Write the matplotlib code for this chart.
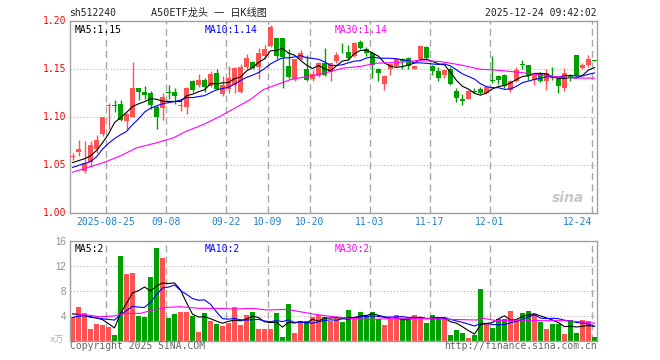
"""Daily K-line chart for sh512240 (A50ETF龙头), Sina finance style.

Price candles with MA5 / MA10 / MA30 on top, volume bars (x万) below.
"""

import matplotlib
matplotlib.use("Agg")
import matplotlib.pyplot as plt
from matplotlib.transforms import blended_transform_factory

# ---------------------------------------------------------------- data

opens = [1.058, 1.063, 1.043, 1.053, 1.066, 1.082, 1.111, 1.112, 1.113, 1.095,
         1.100, 1.130, 1.126, 1.124, 1.110, 1.109, 1.126, 1.1255, 1.111, 1.110,
         1.137, 1.133, 1.138, 1.132, 1.145, 1.123, 1.129, 1.133, 1.126, 1.152,
         1.157, 1.152, 1.1625, 1.1735, 1.1815, 1.1815, 1.1528, 1.139, 1.160, 1.1493,
         1.139, 1.1424, 1.1562, 1.1459, 1.1573, 1.1705, 1.1676, 1.1632, 1.1777, 1.170,
         1.166, 1.150, 1.134, 1.149, 1.153, 1.160, 1.161, 1.150, 1.160, 1.172,
         1.153, 1.147, 1.143, 1.150, 1.127, 1.1186, 1.1186, 1.127, 1.129, 1.124,
         1.138, 1.1425, 1.1435, 1.128, 1.1366, 1.154, 1.154, 1.138, 1.145, 1.137,
         1.142, 1.139, 1.130, 1.1435, 1.1636, 1.151, 1.154, 1.1585]
closes = [1.059, 1.066, 1.052, 1.070, 1.076, 1.099, 1.112, 1.111, 1.096, 1.103,
          1.130, 1.126, 1.122, 1.112, 1.100, 1.120, 1.125, 1.121, 1.112, 1.130,
          1.128, 1.138, 1.131, 1.144, 1.129, 1.133, 1.140, 1.151, 1.152, 1.161,
          1.151, 1.166, 1.1705, 1.1936, 1.1632, 1.1618, 1.141, 1.1597, 1.1666, 1.1383,
          1.1445, 1.1562, 1.1434, 1.1555, 1.1642, 1.1698, 1.1614, 1.177, 1.1718, 1.166,
          1.154, 1.145, 1.142, 1.155, 1.160, 1.158, 1.153, 1.153, 1.173, 1.161,
          1.147, 1.140, 1.148, 1.134, 1.119, 1.1158, 1.1262, 1.126, 1.124, 1.131,
          1.137, 1.1383, 1.1314, 1.1366, 1.1487, 1.1535, 1.142, 1.1435, 1.137, 1.145,
          1.140, 1.132, 1.145, 1.141, 1.142, 1.154, 1.160, 1.158]
highs = [1.062, 1.076, 1.075, 1.075, 1.081, 1.100, 1.114, 1.117, 1.117, 1.104,
         1.157, 1.130, 1.132, 1.127, 1.112, 1.125, 1.133, 1.130, 1.117, 1.131,
         1.138, 1.144, 1.140, 1.147, 1.150, 1.142, 1.153, 1.152, 1.155, 1.165,
         1.158, 1.171, 1.174, 1.1954, 1.182, 1.182, 1.1701, 1.160, 1.169, 1.1642,
         1.1486, 1.157, 1.1711, 1.156, 1.1676, 1.1763, 1.1746, 1.178, 1.1798, 1.172,
         1.168, 1.151, 1.143, 1.156, 1.161, 1.161, 1.162, 1.154, 1.174, 1.173,
         1.154, 1.152, 1.148, 1.152, 1.130, 1.123, 1.128, 1.130, 1.131, 1.132,
         1.1625, 1.143, 1.144, 1.138, 1.152, 1.159, 1.154, 1.145, 1.146, 1.149,
         1.152, 1.140, 1.1504, 1.144, 1.164, 1.156, 1.164, 1.1585]
lows = [1.055, 1.059, 1.041, 1.047, 1.062, 1.080, 1.087, 1.105, 1.095, 1.087,
        1.099, 1.117, 1.118, 1.108, 1.087, 1.096, 1.118, 1.113, 1.106, 1.103,
        1.126, 1.131, 1.126, 1.131, 1.128, 1.121, 1.124, 1.125, 1.125, 1.150,
        1.149, 1.139, 1.160, 1.172, 1.160, 1.1296, 1.139, 1.137, 1.159, 1.1365,
        1.1365, 1.141, 1.142, 1.1365, 1.156, 1.166, 1.159, 1.162, 1.170, 1.163,
        1.140, 1.137, 1.128, 1.143, 1.152, 1.150, 1.150, 1.149, 1.158, 1.160,
        1.143, 1.137, 1.140, 1.133, 1.115, 1.112, 1.118, 1.124, 1.123, 1.123,
        1.135, 1.134, 1.130, 1.126, 1.136, 1.150, 1.138, 1.133, 1.136, 1.128,
        1.138, 1.1245, 1.127, 1.137, 1.141, 1.150, 1.152, 1.158]

# volume in 万 (10k)
volumes = [3.84, 5.44, 4.37, 1.87, 2.67, 2.51, 2.24, 0.91, 13.55, 10.67,
           10.88, 4.0, 3.84, 10.24, 14.83, 13.23, 3.63, 4.27, 4.64, 4.64,
           4.0, 1.39, 4.43, 3.15, 2.67, 2.35, 2.88, 5.39, 2.56, 4.11,
           4.64, 1.92, 1.92, 1.92, 4.43, 0.64, 5.87, 1.23, 3.15, 3.15,
           3.84, 4.16, 3.73, 3.2, 3.73, 2.99, 4.91, 3.73, 4.59, 3.95,
           4.59, 3.41, 2.51, 3.41, 4.11, 3.41, 3.31, 4.11, 3.84, 2.83,
           4.11, 3.57, 3.73, 0.91, 1.71, 1.23, 0.48, 0.96, 8.27, 2.77,
           2.08, 3.41, 3.41, 4.75, 3.41, 4.37, 4.75, 4.27, 2.99, 1.87,
           2.67, 2.67, 1.07, 3.31, 1.23, 3.31, 3.15, 0.59]

# moving averages
ma5 = [1.052, 1.054, 1.056, 1.059, 1.0646, 1.0726, 1.0818, 1.0936, 1.0988, 1.1042,
       1.1104, 1.1132, 1.1154, 1.1186, 1.118, 1.116, 1.1158, 1.1156, 1.1156, 1.1216,
       1.1232, 1.1258, 1.1278, 1.1342, 1.134, 1.135, 1.1354, 1.1394, 1.141, 1.1474,
       1.151, 1.1562, 1.1601, 1.1684, 1.1689, 1.171, 1.166, 1.1639, 1.1585, 1.1535,
       1.15, 1.1531, 1.1498, 1.1476, 1.1528, 1.1578, 1.1589, 1.1656, 1.1688, 1.1692,
       1.166, 1.1628, 1.1558, 1.1524, 1.1512, 1.152, 1.1536, 1.1558, 1.1594, 1.1596,
       1.1574, 1.1548, 1.1538, 1.146, 1.1376, 1.1314, 1.1286, 1.1242, 1.1222, 1.1246,
       1.1288, 1.1313, 1.1323, 1.1349, 1.1384, 1.1417, 1.1424, 1.1449, 1.1449, 1.1442,
       1.1415, 1.1395, 1.1398, 1.1406, 1.14, 1.1428, 1.1484, 1.151]
ma10 = [1.047, 1.049, 1.051, 1.053, 1.058, 1.066, 1.072, 1.077, 1.081, 1.0844,
        1.0915, 1.0975, 1.1045, 1.1087, 1.1111, 1.1132, 1.1145, 1.1155, 1.1171, 1.1198,
        1.1196, 1.1208, 1.1217, 1.1249, 1.1278, 1.1291, 1.1306, 1.1336, 1.1376, 1.1407,
        1.143, 1.1458, 1.1498, 1.1547, 1.1582, 1.161, 1.1611, 1.162, 1.1635, 1.1612,
        1.1605, 1.1596, 1.1569, 1.1531, 1.1532, 1.1539, 1.156, 1.1577, 1.1582, 1.161,
        1.1619, 1.1609, 1.1607, 1.1606, 1.1602, 1.159, 1.1582, 1.1558, 1.1559, 1.1554,
        1.1547, 1.1542, 1.1548, 1.1527, 1.1486, 1.1444, 1.1417, 1.139, 1.1341, 1.1311,
        1.1301, 1.13, 1.1283, 1.1286, 1.1315, 1.1353, 1.1369, 1.1386, 1.1399, 1.1413,
        1.1416, 1.141, 1.1424, 1.1428, 1.1421, 1.1422, 1.144, 1.1454]
ma30_idx = [0, 2.4, 5.1, 7.9, 10.7, 14, 16.8, 19, 21.8, 24.6, 27.4, 29.6, 31.8, 34,
            36.3, 38.5, 40.7, 43, 45.1, 47.9, 50.7, 54, 57.4, 61.25, 64.6, 67.9,
            71.25, 74.6, 77.9, 81.25, 84.6, 87]
ma30_val = [1.042, 1.0466, 1.0518, 1.0587, 1.0674, 1.0726, 1.0777, 1.0847, 1.0916,
            1.1002, 1.1099, 1.1175, 1.1279, 1.1331, 1.1383, 1.141, 1.1434, 1.1469,
            1.1504, 1.1521, 1.1555, 1.1562, 1.1583, 1.1573, 1.1538, 1.1493, 1.148,
            1.1459, 1.1434, 1.141, 1.14, 1.14]

vol_ma5 = [4.27, 4.22, 4.0, 3.75, 3.64, 3.37, 2.73, 2.04, 4.38, 5.98,
           7.65, 8.0, 8.59, 7.93, 8.76, 9.23, 9.15, 9.24, 8.12, 6.08,
           4.24, 3.79, 3.82, 3.52, 3.13, 2.80, 3.10, 3.29, 3.17, 3.46,
           3.92, 3.72, 3.03, 2.90, 2.97, 2.17, 2.96, 2.82, 3.06, 2.81,
           3.45, 3.11, 3.61, 3.62, 3.73, 3.56, 3.71, 3.71, 3.99, 4.03,
           4.35, 4.05, 3.81, 3.57, 3.61, 3.37, 3.35, 3.67, 3.76, 3.5,
           3.64, 3.69, 3.62, 3.03, 2.81, 2.23, 1.61, 1.06, 2.53, 2.74,
           2.91, 3.50, 3.99, 3.28, 3.41, 3.87, 4.14, 4.31, 3.96, 3.65,
           3.31, 2.89, 2.25, 2.32, 2.19, 2.32, 2.41, 2.32]
vol_ma10 = [3.73, 3.9, 4.0, 3.85, 3.65, 3.5, 3.4, 3.3, 4.2, 4.81,
            5.51, 5.37, 5.32, 6.16, 7.37, 8.44, 8.58, 8.92, 8.03, 7.42,
            6.74, 6.47, 6.53, 5.82, 4.61, 3.52, 3.45, 3.56, 3.35, 3.30,
            3.36, 3.41, 3.16, 3.04, 3.22, 3.05, 3.34, 2.93, 2.98, 2.89,
            2.81, 3.04, 3.22, 3.34, 3.27, 3.51, 3.41, 3.66, 3.81, 3.88,
            3.96, 3.88, 3.76, 3.78, 3.82, 3.86, 3.70, 3.74, 3.67, 3.56,
            3.51, 3.52, 3.65, 3.40, 3.16, 2.94, 2.65, 2.34, 2.78, 2.78,
            2.57, 2.56, 2.53, 2.91, 3.08, 3.39, 3.82, 4.15, 3.62, 3.53,
            3.59, 3.52, 3.28, 3.14, 2.92, 2.82, 2.65, 2.29]
vol_ma30_idx = [0, 2.4, 4.6, 6.8, 9, 11.25, 13.5, 15.7, 17.9, 21.25, 24.6, 26.8,
                30.1, 32.4, 35.7, 37.9, 40.1, 42.9, 46.25, 49.6, 54, 59.6, 62.9,
                67.4, 68.5, 70.7, 74, 78.4, 81.8, 84.6, 87]
vol_ma30_val = [4.37, 4.11, 3.84, 3.95, 4.37, 4.37, 4.91, 5.33, 5.44, 5.17, 5.17,
                5.07, 5.17, 4.91, 5.01, 4.64, 4.27, 3.9, 3.57, 3.41, 3.57, 3.57,
                3.41, 3.31, 3.57, 3.2, 3.31, 3.2, 3.2, 3.04, 2.8]

date_labels = ["2025-08-25", "09-08", "09-22", "10-09", "10-20",
               "11-03", "11-17", "12-01", "12-24"]
date_idx = [6, 16, 26, 33, 40, 50, 60, 70, 87]
price_ticks = [1.00, 1.05, 1.10, 1.15, 1.20]
vol_ticks = [4, 8, 12, 16]

# ---------------------------------------------------------------- style

W, H = 660, 360
RED = "#ff5353"
GREEN = "#00a000"
FRAME = "#a0a0a0"
DATE_BLUE = "#1f7fcf"
MONO = "DejaVu Sans Mono"
CJK = [MONO, "Noto Sans CJK SC"]

fig = plt.figure(figsize=(W / 100, H / 100), dpi=100)
fig.patch.set_facecolor("white")


def px_axes(left, top, right, bottom):
    """Axes placed by pixel box (origin top-left)."""
    return fig.add_axes([left / W, 1 - bottom / H, (right - left) / W, (bottom - top) / H])


def style_frame(ax):
    for sp in ax.spines.values():
        sp.set_color(FRAME)
        sp.set_linewidth(1.0)
    ax.set_xlim(-0.42, 87.42)
    ax.set_xticks([])
    ax.tick_params(axis="y", length=0, pad=2.6)
    # dashed verticals on each date mark
    for i in date_idx:
        ax.axvline(i - 0.42, color="#a8a8a8", lw=1.0, ls=(0, (5, 3)), zorder=0.5)


n = len(closes)
xs = list(range(n))
colors = [RED if c >= o else GREEN for o, c in zip(opens, closes)]

# ---------------------------------------------------------------- price panel

ax = px_axes(70, 20.5, 597, 212.5)
style_frame(ax)
ax.set_ylim(1.00, 1.20)
for y in price_ticks[1:-1]:
    ax.axhline(y, color="#b4b4b4", lw=0.8, ls=(0, (1, 2)), zorder=0.5)

ax.vlines(xs, lows, highs, colors=colors, lw=1.0, zorder=2)
bottoms = [min(o, c) for o, c in zip(opens, closes)]
heights = [max(abs(c - o), 0.0009) for o, c in zip(opens, closes)]
ax.bar(xs, heights, bottom=bottoms, width=0.8, color=colors, lw=0, zorder=3)

ax.plot(xs, ma5, color="black", lw=0.8, zorder=4)
ax.plot(xs, ma10, color="#0000ff", lw=0.8, zorder=4)
ax.plot(ma30_idx, ma30_val, color="#ff00ff", lw=0.8, zorder=4)

ax.set_yticks(price_ticks)
ax.set_yticklabels([f"{v:.2f}" for v in price_ticks], family=MONO, fontsize=7, color="red")

trans = blended_transform_factory(ax.transData, ax.transAxes)
for lab, i in zip(date_labels, date_idx):
    ha = "right" if i == date_idx[-1] else "center"
    ax.text(i - 0.42, -0.048, lab, transform=trans, ha=ha, va="center",
            family=MONO, fontsize=7, color=DATE_BLUE)

ax.text(0.009, 0.975, "MA5:1.15", transform=ax.transAxes, ha="left", va="top",
        family=MONO, fontsize=7, color="black")
ax.text(0.256, 0.975, "MA10:1.14", transform=ax.transAxes, ha="left", va="top",
        family=MONO, fontsize=7, color="#0000ff")
ax.text(0.502, 0.975, "MA30:1.14", transform=ax.transAxes, ha="left", va="top",
        family=MONO, fontsize=7, color="#ff00ff")

# sina watermark
ax.text(0.975, 0.04, "sina", transform=ax.transAxes, ha="right", va="bottom",
        fontsize=10, style="italic", weight="bold", color="#c8c8c8", family="DejaVu Sans")

# ---------------------------------------------------------------- volume panel

vx = px_axes(70, 240.7, 597, 340.7)
style_frame(vx)
vx.set_ylim(0, 16)
for y in vol_ticks[:-1]:
    vx.axhline(y, color="#b4b4b4", lw=0.8, ls=(0, (1, 2)), zorder=0.5)

vx.bar(xs, volumes, width=0.85, color=colors, lw=0, zorder=2)
vx.plot(xs, vol_ma5, color="black", lw=0.8, zorder=4)
vx.plot(xs, vol_ma10, color="#0000ff", lw=0.8, zorder=4)
vx.plot(vol_ma30_idx, vol_ma30_val, color="#ff00ff", lw=0.8, zorder=4)

vx.set_yticks(vol_ticks)
vx.set_yticklabels([str(v) for v in vol_ticks], family="Liberation Sans", fontsize=7,
                   color="#8c8c8c")

vx.text(0.009, 0.97, "MA5:2", transform=vx.transAxes, ha="left", va="top",
        family=MONO, fontsize=7, color="black")
vx.text(0.256, 0.97, "MA10:2", transform=vx.transAxes, ha="left", va="top",
        family=MONO, fontsize=7, color="#0000ff")
vx.text(0.502, 0.97, "MA30:2", transform=vx.transAxes, ha="left", va="top",
        family=MONO, fontsize=7, color="#ff00ff")

# ---------------------------------------------------------------- header / footer

fig.text(69 / W, 1 - 13 / H, "sh512240", ha="left", va="center",
         family=MONO, fontsize=7, color="#222222")
fig.text(151 / W, 1 - 13 / H, "A50ETF龙头 一 日K线图", ha="left", va="center",
         family=CJK, fontsize=7.3, color="#222222")
fig.text(597 / W, 1 - 13 / H, "2025-12-24 09:42:02", ha="right", va="center",
         family=MONO, fontsize=7, color="#222222")

fig.text(64 / W, 1 - 340 / H, "x万", ha="right", va="center",
         family=["DejaVu Sans", "Noto Sans CJK SC"], fontsize=6.5, color="#b0b0b0")
fig.text(70 / W, 1 - 346 / H, "Copyright 2025 SINA.COM", ha="left", va="center",
         family=MONO, fontsize=7, color="#666666")
fig.text(597 / W, 1 - 346 / H, "http://finance.sina.com.cn", ha="right", va="center",
         family=MONO, fontsize=7, color="#666666")

fig.savefig("out.png", dpi=100)
